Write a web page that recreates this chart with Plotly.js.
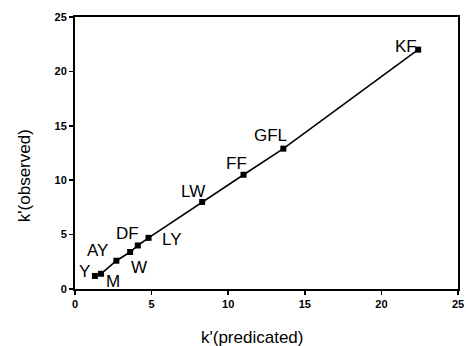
<!DOCTYPE html>
<html>
<head>
<meta charset="utf-8">
<script src="https://cdn.plot.ly/plotly-3.0.1.min.js"></script>
<style>
  html, body { margin: 0; padding: 0; background: #fff; }
  #chart { width: 466px; height: 346px; }
</style>
</head>
<body>
<div id="chart"></div>
<script>
// Compounds and their capacity factors
const names = ['Y', 'M', 'AY', 'W', 'DF', 'LY', 'LW', 'FF', 'GFL', 'KF'];
const kPredicted = [1.3, 1.7, 2.7, 3.6, 4.1, 4.8, 8.3, 11.0, 13.6, 22.4];
const kObserved = [1.2, 1.4, 2.6, 3.4, 4.0, 4.7, 8.0, 10.5, 12.9, 22.0];

// Label offsets (pixels) relative to each point
const labelDx = [-10, 12, -19, 9, -10, 23, -9, -7, -13, -12];
const labelDy = [4, -8, 10, -15, 12, -2, 10, 11, 13, 3];

const xTitle = "k'(predicated)";
const yTitle = "k'(observed)";

const ink = '#000';
const font = 'Liberation Sans, Arial, sans-serif';

const traces = [
  {
    // fitted line through the series, starting at the second compound
    x: kPredicted.slice(1),
    y: kObserved.slice(1),
    mode: 'lines',
    line: { color: ink, width: 1.6 },
    hoverinfo: 'skip'
  },
  {
    x: kPredicted,
    y: kObserved,
    mode: 'markers',
    marker: { symbol: 'square', size: 6, color: ink },
    text: names
  }
];

const annotations = names.map((n, i) => ({
  x: kPredicted[i],
  y: kObserved[i],
  xref: 'x',
  yref: 'y',
  text: n,
  showarrow: false,
  xshift: labelDx[i],
  yshift: labelDy[i],
  font: { family: font, size: 17, color: ink }
}));

// axis titles, placed in paper coordinates
annotations.push({
  xref: 'paper', yref: 'paper',
  x: 0.462, y: -0.135,
  xanchor: 'center', yanchor: 'top',
  text: xTitle, showarrow: false,
  font: { family: font, size: 17, color: ink }
});
annotations.push({
  xref: 'paper', yref: 'paper',
  x: -0.133, y: 0.415,
  xanchor: 'center', yanchor: 'middle',
  textangle: -90,
  text: yTitle, showarrow: false,
  font: { family: font, size: 17, color: ink }
});

const axisBase = {
  range: [0, 25],
  tickvals: [0, 5, 10, 15, 20, 25],
  ticks: 'outside',
  ticklen: 4,
  tickwidth: 1.5,
  tickcolor: ink,
  showline: true,
  linecolor: ink,
  linewidth: 2,
  mirror: true,
  showgrid: false,
  zeroline: false,
  tickfont: { family: font, size: 11, color: ink, weight: 'bold' }
};

const layout = {
  width: 466,
  height: 346,
  margin: { l: 75, r: 8, t: 17, b: 57 },
  paper_bgcolor: '#fff',
  plot_bgcolor: '#fff',
  showlegend: false,
  xaxis: Object.assign({}, axisBase),
  yaxis: Object.assign({}, axisBase),
  annotations: annotations
};

Plotly.newPlot('chart', traces, layout, { staticPlot: true, displayModeBar: false });
</script>
</body>
</html>
